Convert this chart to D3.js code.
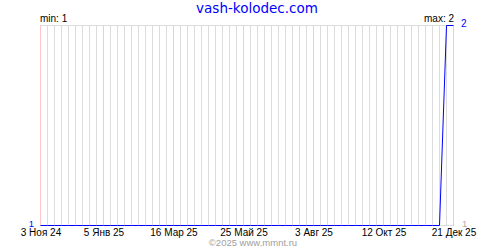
<!DOCTYPE html>
<html>
<head>
<meta charset="utf-8">
<script src="https://cdn.jsdelivr.net/npm/d3@7"></script>
<style>
  body { margin: 0; background: #fff; }
  svg { display: block; }
</style>
</head>
<body>
<svg width="500" height="250"></svg>
<script>
// weekly readings (sunday of each week) and the value for that week
var dates = [
  "2024-11-03", "2024-11-10", "2024-11-17", "2024-11-24", "2024-12-01", "2024-12-08",
  "2024-12-15", "2024-12-22", "2024-12-29", "2025-01-05", "2025-01-12", "2025-01-19",
  "2025-01-26", "2025-02-02", "2025-02-09", "2025-02-16", "2025-02-23", "2025-03-02",
  "2025-03-09", "2025-03-16", "2025-03-23", "2025-03-30", "2025-04-06", "2025-04-13",
  "2025-04-20", "2025-04-27", "2025-05-04", "2025-05-11", "2025-05-18", "2025-05-25",
  "2025-06-01", "2025-06-08", "2025-06-15", "2025-06-22", "2025-06-29", "2025-07-06",
  "2025-07-13", "2025-07-20", "2025-07-27", "2025-08-03", "2025-08-10", "2025-08-17",
  "2025-08-24", "2025-08-31", "2025-09-07", "2025-09-14", "2025-09-21", "2025-09-28",
  "2025-10-05", "2025-10-12", "2025-10-19", "2025-10-26", "2025-11-02", "2025-11-09",
  "2025-11-16", "2025-11-23", "2025-11-30", "2025-12-07", "2025-12-14", "2025-12-21"
];
var values = [
  1, 1, 1, 1, 1, 1, 1, 1, 1, 1, 1, 1,
  1, 1, 1, 1, 1, 1, 1, 1, 1, 1, 1, 1,
  1, 1, 1, 1, 1, 1, 1, 1, 1, 1, 1, 1,
  1, 1, 1, 1, 1, 1, 1, 1, 1, 1, 1, 1,
  1, 1, 1, 1, 1, 1, 1, 1, 1, 1, 2, 2
];

// labelled ticks (red grid lines) and russian month names
var tickDates = ["2024-11-03", "2025-01-05", "2025-03-16", "2025-05-25", "2025-08-03", "2025-10-12", "2025-12-21"];
var months = ["Янв", "Фев", "Мар", "Апр", "Май", "Июн", "Июл", "Авг", "Сен", "Окт", "Ноя", "Дек"];

var title = "vash-kolodec.com",
    copyright = "©2025 www.mmnt.ru";

var svg = d3.select("svg"),
    margin = {top: 25, right: 47, bottom: 25, left: 40},
    width = +svg.attr("width") - margin.left - margin.right,
    height = +svg.attr("height") - margin.top - margin.bottom;

var parse = d3.utcParse("%Y-%m-%d");

var data = dates.map(function(d, i) { return {date: parse(d), value: values[i]}; });
var ticks = tickDates.map(parse);

var x = d3.scaleUtc()
    .domain([data[0].date, data[data.length - 1].date])
    .range([margin.left, margin.left + width]);

var y = d3.scaleLinear()
    .domain([d3.min(values), d3.max(values)])
    .range([margin.top + height, margin.top]);

// half pixel so the 1px lines are sharp
function px(v) { return Math.round(v) + 0.5; }

var font = "'Liberation Sans', Arial, sans-serif";

// title
svg.append("text")
    .attr("x", 257)
    .attr("y", 13)
    .attr("text-anchor", "middle")
    .attr("font-family", "'DejaVu Sans', Verdana, sans-serif")
    .attr("font-size", 13.5)
    .attr("fill", "#00f")
    .text(title);

// weekly grid lines
var week = x.ticks(d3.utcWeek);
svg.append("g")
  .selectAll("line")
  .data(week)
  .enter().append("line")
    .attr("x1", function(d) { return px(x(d)); })
    .attr("x2", function(d) { return px(x(d)); })
    .attr("y1", margin.top)
    .attr("y2", margin.top + height)
    .attr("stroke", "#dcdcdc");

// labelled grid lines are pink
svg.append("g")
  .selectAll("line")
  .data(ticks)
  .enter().append("line")
    .attr("x1", function(d) { return px(x(d)); })
    .attr("x2", function(d) { return px(x(d)); })
    .attr("y1", margin.top)
    .attr("y2", margin.top + height)
    .attr("stroke", "#ffc4c4");

// top and bottom borders
svg.append("g")
  .selectAll("line")
  .data(y.domain())
  .enter().append("line")
    .attr("x1", margin.left)
    .attr("x2", margin.left + width + 1)
    .attr("y1", function(d) { return px(y(d)); })
    .attr("y2", function(d) { return px(y(d)); })
    .attr("stroke", "#dcdcdc");

// the data line
var line = d3.line()
    .x(function(d) { return px(x(d.date)); })
    .y(function(d) { return px(y(d.value)); });

svg.append("path")
    .datum(data)
    .attr("d", line)
    .attr("fill", "none")
    .attr("stroke", "#00f")
    .attr("stroke-width", 1);

// date labels under the chart
svg.append("g")
    .attr("font-family", font)
    .attr("font-size", 10)
    .attr("text-anchor", "middle")
  .selectAll("text")
  .data(ticks)
  .enter().append("text")
    .attr("x", function(d) { return x(d) + 1; })
    .attr("y", 236)
    .attr("fill", "#000")
    .text(function(d) {
      return d.getUTCDate() + " " + months[d.getUTCMonth()] + " " + String(d.getUTCFullYear()).slice(2);
    });

// min / max
var lo = d3.min(values), hi = d3.max(values);

svg.append("text")
    .attr("x", margin.left)
    .attr("y", 22)
    .attr("font-family", font)
    .attr("font-size", 10)
    .text("min: " + lo);

svg.append("text")
    .attr("x", margin.left + width + 1)
    .attr("y", 22)
    .attr("text-anchor", "end")
    .attr("font-family", font)
    .attr("font-size", 10)
    .text("max: " + hi);

// first and last values at the ends of the line
svg.append("text")
    .attr("x", 34)
    .attr("y", y(data[0].value) + 1.5)
    .attr("text-anchor", "end")
    .attr("font-family", font)
    .attr("font-size", 9.5)
    .attr("fill", "#00f")
    .text(data[0].value);

svg.append("text")
    .attr("x", 461)
    .attr("y", y(data[data.length - 1].value) + 2)
    .attr("font-family", font)
    .attr("font-size", 10)
    .attr("fill", "#00f")
    .text(data[data.length - 1].value);

svg.append("text")
    .attr("x", 462)
    .attr("y", y(lo) + 1.5)
    .attr("font-family", font)
    .attr("font-size", 9.5)
    .attr("fill", "#aaa")
    .text(lo);

// copyright
svg.append("text")
    .attr("x", 253)
    .attr("y", 245.5)
    .attr("text-anchor", "middle")
    .attr("font-family", font)
    .attr("font-size", 9.5)
    .attr("fill", "#a0a0a0")
    .text(copyright);
</script>
</body>
</html>
